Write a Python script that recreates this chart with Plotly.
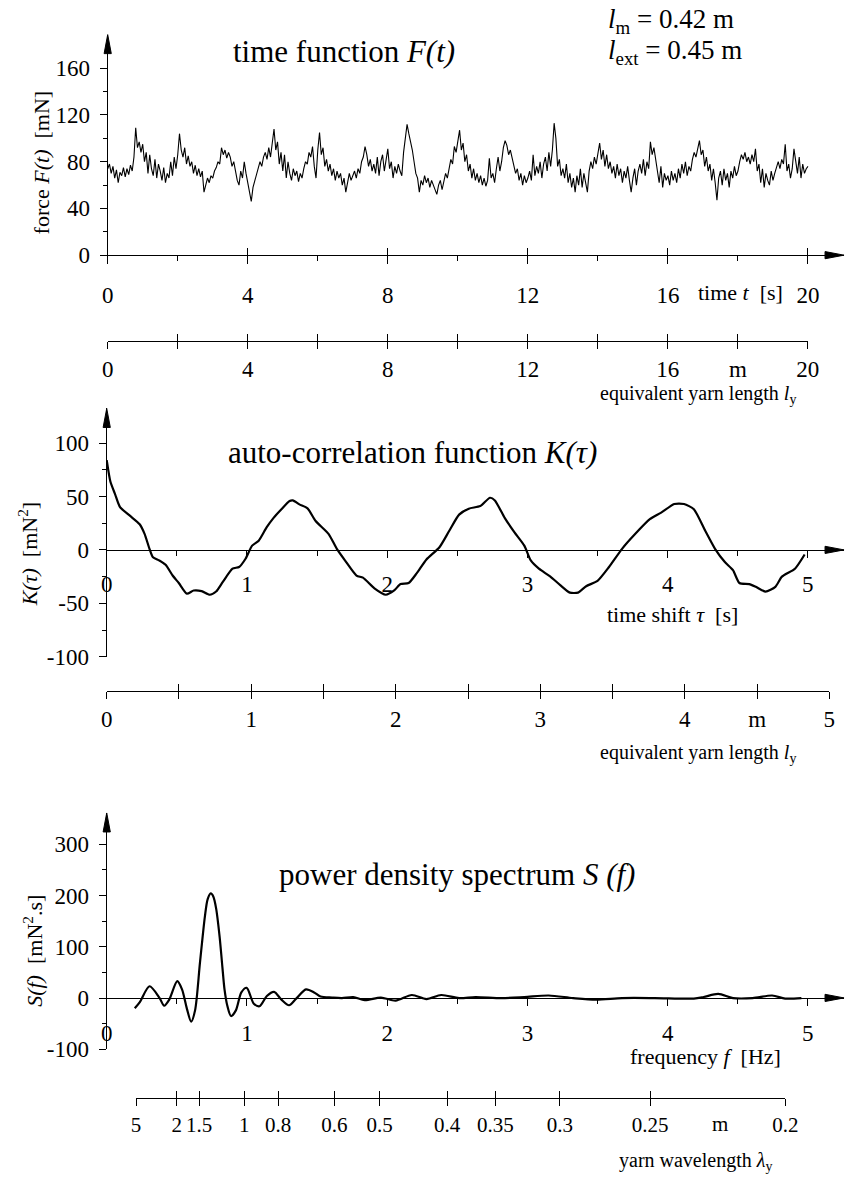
import plotly.graph_objects as go

W, H = 859, 1183
FONT = "Liberation Serif"

# ---------------- data ----------------
# panel 1: force F(t) [mN], sampled every 0.05 s from 0 to 20 s
force_dt = 0.05
force_mN = [
    74, 78, 70, 76, 66, 73, 62, 71, 68, 75, 67, 74, 69, 77, 72, 84, 109, 92, 97, 88,
    95, 80, 88, 70, 86, 74, 68, 82, 66, 78, 72, 64, 75, 62, 70, 66, 80, 68, 84, 74,
    86, 104, 90, 84, 92, 78, 85, 76, 80, 70, 77, 68, 74, 67, 72, 54, 60, 66, 62, 68,
    66, 72, 75, 80, 78, 92, 86, 90, 83, 88, 84, 76, 80, 70, 64, 60, 72, 66, 80, 70,
    62, 56, 46, 58, 64, 70, 74, 80, 76, 84, 88, 82, 92, 84, 96, 108, 90, 97, 78, 88,
    72, 86, 66, 80, 70, 64, 74, 68, 72, 63, 70, 66, 74, 80, 78, 88, 84, 93, 76, 66,
    90, 105, 86, 92, 76, 82, 72, 78, 68, 74, 64, 72, 66, 70, 60, 66, 54, 62, 70, 64,
    68, 72, 66, 74, 70, 80, 84, 93, 86, 76, 82, 72, 78, 70, 84, 68, 80, 86, 72, 84,
    91, 74, 80, 66, 76, 70, 78, 72, 68, 88, 100, 112, 104, 98, 90, 80, 70, 66, 54, 64,
    60, 68, 62, 66, 58, 64, 60, 56, 52, 60, 64, 56, 62, 70, 66, 76, 82, 78, 93, 88,
    98, 107, 90, 96, 80, 86, 72, 78, 66, 74, 64, 70, 62, 68, 60, 66, 59, 64, 83, 66,
    70, 62, 74, 84, 72, 80, 92, 98, 94, 86, 90, 84, 76, 70, 74, 64, 70, 60, 68, 62,
    66, 72, 64, 86, 68, 76, 70, 80, 66, 78, 84, 72, 88, 76, 90, 113, 100, 76, 82, 68,
    74, 66, 78, 62, 70, 58, 66, 54, 68, 60, 74, 58, 70, 62, 54, 72, 80, 74, 84, 78,
    86, 96, 82, 90, 76, 86, 74, 80, 70, 76, 66, 78, 68, 74, 62, 72, 66, 76, 64, 54,
    66, 74, 60, 72, 78, 70, 82, 68, 80, 74, 97, 86, 92, 82, 74, 62, 76, 58, 70, 64,
    68, 60, 72, 64, 70, 62, 74, 66, 78, 70, 80, 68, 76, 72, 82, 88, 84, 91, 98, 86,
    90, 76, 84, 72, 78, 64, 74, 62, 47, 66, 72, 60, 74, 64, 70, 58, 72, 66, 76, 68,
    72, 80, 86, 82, 88, 80, 84, 78, 86, 80, 91, 72, 78, 62, 74, 58, 70, 64, 60, 72,
    64, 70, 76, 80, 74, 82, 78, 95, 72, 78, 66, 74, 91, 80, 70, 84, 66, 78, 70, 74,
    76,
]
time_s = [round(i * force_dt, 2) for i in range(len(force_mN))]

# panel 2: auto-correlation K(tau) [mN^2]
tau_s = [0, 0.026, 0.06, 0.095, 0.165, 0.235, 0.27, 0.305, 0.33, 0.375, 0.42, 0.47,
         0.514, 0.572, 0.62, 0.677, 0.735, 0.78, 0.828, 0.897, 0.944, 0.99, 1.037,
         1.084, 1.14, 1.19, 1.246, 1.304, 1.327, 1.374, 1.432, 1.49, 1.583, 1.641,
         1.7, 1.781, 1.827, 1.909, 1.99, 2.05, 2.095, 2.153, 2.21, 2.28, 2.373,
         2.443, 2.513, 2.582, 2.664, 2.733, 2.768, 2.838, 2.908, 2.978, 3.024,
         3.082, 3.164, 3.234, 3.303, 3.361, 3.419, 3.5, 3.582, 3.675, 3.768, 3.873,
         3.954, 4.047, 4.117, 4.187, 4.268, 4.338, 4.408, 4.466, 4.512, 4.582,
         4.629, 4.698, 4.768, 4.815, 4.908, 4.977]
K_mN2 = [84, 64, 52, 40, 32, 24, 15, 1, -7, -10, -14, -24, -31, -41, -38, -38.6,
         -42, -39, -30, -17.6, -16, -8.3, 4, 8.6, 21, 30, 38, 45.7, 46.3, 42.6,
         38.9, 27, 14.8, 0.9, -10, -24, -26, -36, -42, -38, -32, -31, -22, -9,
         2.5, 17.9, 33, 38.6, 41, 48.8, 46.3, 30, 16.4, 4, -9.9, -17.6, -25, -33,
         -40, -40, -34, -29, -16, 1, 14.8, 28.7, 34.9, 43, 43, 38, 17.9, 1, -11.4,
         -19, -31, -32, -34.6, -39, -34.6, -25, -17.6, -4.3]

# panel 3: power density spectrum S(f) [mN^2.s]
freq_Hz = [0.2, 0.236, 0.305, 0.375, 0.41, 0.444, 0.503, 0.537, 0.572, 0.602, 0.63,
           0.665, 0.7, 0.72, 0.742, 0.76, 0.78, 0.805, 0.825, 0.84, 0.86, 0.886,
           0.921, 0.96, 0.998, 1.049, 1.09, 1.142, 1.193, 1.246, 1.3, 1.351, 1.421,
           1.479, 1.525, 1.607, 1.677, 1.758, 1.84, 1.955, 2.06, 2.176, 2.28, 2.385,
           2.513, 2.63, 2.815, 2.978, 3.152, 3.326, 3.489, 3.675, 3.908, 4.187,
           4.257, 4.361, 4.466, 4.606, 4.745, 4.838, 4.954]
S_mN2s = [-20, -8, 23, 1, -15, -4, 33, 17, -21, -46, -24, 69, 159, 193, 204, 198,
          175, 120, 60, 17, -15, -35, -24, 11, 20, -11, -16, 4, 12, -3, -14, -1,
          17, 11, 3, 1, 0, 2, -4, 1, -5, 6, -2, 6, 0, 2, 0, 2, 5, 0, -3, 0, 0, -1,
          2, 8, 0, 0, 5, -1, 0]

# axis ticks
f_ticks = [0, 40, 80, 120, 160]
k_ticks = [-100, -50, 0, 50, 100]
k_text = ["-100", "-50", "0", "50", "100"]
s_ticks = [-100, 0, 100, 200, 300]
s_text = ["-100", "0", "100", "200", "300"]

# secondary scales
length_ticks_1 = [0, 4, 8, 12, 16, 18, 20]
length_text_1 = ["0", "4", "8", "12", "16", "m", "20"]
length_minor_1 = [2, 6, 10, 14]
length_ticks_2 = [0, 1, 2, 3, 4, 4.5, 5]
length_text_2 = ["0", "1", "2", "3", "4", "m", "5"]
length_minor_2 = [0.5, 1.5, 2.5, 3.5]
wavelength_m = [5, 2, 1.5, 1, 0.8, 0.6, 0.5, 0.4, 0.35, 0.3, 0.25, 0.2]
wavelength_text = ["5", "2", "1.5", "1", "0.8", "0.6", "0.5", "0.4", "0.35", "0.3", "0.25", "0.2"]
speed_factor = 0.97  # lambda * f

# axis extents
F_RANGE = [0, 188.8]
T_RANGE = [0, 21.03]
K_RANGE = [-100, 132.4]
TAU_RANGE = [0, 5.258]
S_RANGE = [-100, 361]
FR_RANGE = [0, 5.258]

# ---------------- helpers ----------------
def X(px):
    return px / W

def Y(py):
    return 1 - py / H

fig = go.Figure()

fig.add_trace(go.Scatter(x=time_s, y=force_mN, mode="lines",
                         line=dict(color="black", width=1.1), xaxis="x", yaxis="y"))
fig.add_trace(go.Scatter(x=tau_s, y=K_mN2, mode="lines",
                         line=dict(color="black", width=2.2, shape="spline", smoothing=0.6),
                         xaxis="x2", yaxis="y2"))
fig.add_trace(go.Scatter(x=freq_Hz, y=S_mN2s, mode="lines",
                         line=dict(color="black", width=2.2, shape="spline", smoothing=0.8),
                         xaxis="x3", yaxis="y3"))
# dummy traces to carry the secondary axes
for xa, ya in [("x4", "y"), ("x5", "y2"), ("x6", "y3"), ("x7", "y"), ("x8", "y2"),
               ("x9", "y3"), ("x10", "y")]:
    fig.add_trace(go.Scatter(x=[None], y=[None], mode="markers", xaxis=xa, yaxis=ya,
                             hoverinfo="skip", showlegend=False))

TICK = 23
tickfont = dict(family=FONT, size=TICK, color="black")
base = dict(showgrid=False, zeroline=False, showline=True, linecolor="black",
            linewidth=1.2, tickcolor="black", tickwidth=1.2, tickfont=tickfont,
            fixedrange=True)

def minor(vals, length, direction="outside"):
    return dict(tickvals=vals, ticks=direction, ticklen=length,
                tickcolor="black", tickwidth=1.2)

lay = {}
# panel 1 primary
lay["xaxis"] = dict(base, domain=[X(104), X(857)], range=T_RANGE, anchor="y",
                    tickmode="array", tickvals=[0, 4, 8, 12, 16, 20], ticks="outside",
                    ticklen=8, ticklabelstandoff=11,
                    minor=minor([2, 6, 10, 14, 18], 5))
lay["yaxis"] = dict(base, domain=[Y(258), Y(35)], range=F_RANGE, anchor="x",
                    tickmode="array", tickvals=f_ticks, ticks="outside",
                    ticklen=7, ticklabelstandoff=5,
                    minor=minor([20, 60, 100, 140], 4))
lay["xaxis10"] = dict(base, domain=[X(104), X(857)], range=T_RANGE, anchor="free",
                      position=Y(258), showline=False, tickmode="array",
                      tickvals=[4, 8, 12, 16, 20], ticks="inside", ticklen=7,
                      showticklabels=False)
# panel 1 secondary
sec1 = dict(domain=[X(104), X(820)], range=[0, 20], anchor="free", position=Y(345))
lay["xaxis4"] = dict(base, **sec1, tickmode="array", tickvals=length_ticks_1,
                     ticktext=length_text_1, ticks="outside", ticklen=7,
                     ticklabelstandoff=0, minor=minor(length_minor_1, 7))
lay["xaxis7"] = dict(base, **sec1, showline=False, tickmode="array",
                     tickvals=length_ticks_1 + length_minor_1, ticks="inside",
                     ticklen=7, showticklabels=False)
# panel 2 primary
lay["xaxis2"] = dict(base, domain=[X(103), X(857)], range=TAU_RANGE, anchor="free",
                     position=Y(556), tickmode="array", tickvals=[0, 1, 2, 3, 4, 5],
                     ticks="outside", ticklen=7, ticklabelstandoff=6,
                     minor=minor([0.5, 1.5, 2.5, 3.5, 4.5], 5))
lay["yaxis2"] = dict(base, domain=[Y(664), Y(413)], range=K_RANGE, anchor="x2",
                     tickmode="array", tickvals=k_ticks, ticktext=k_text,
                     ticks="outside", ticklen=7, ticklabelstandoff=5,
                     minor=minor([-75, -25, 25, 75], 4))
# panel 2 secondary
sec2 = dict(domain=[X(103), X(842)], range=[0, 5], anchor="free", position=Y(699))
lay["xaxis5"] = dict(base, **sec2, tickmode="array", tickvals=length_ticks_2,
                     ticktext=length_text_2, ticks="outside", ticklen=7,
                     ticklabelstandoff=0, minor=minor(length_minor_2, 7))
lay["xaxis8"] = dict(base, **sec2, showline=False, tickmode="array",
                     tickvals=length_ticks_2 + length_minor_2, ticks="inside",
                     ticklen=7, showticklabels=False)
# panel 3 primary
lay["xaxis3"] = dict(base, domain=[X(103), X(857)], range=FR_RANGE, anchor="free",
                     position=Y(1009), tickmode="array", tickvals=[0, 1, 2, 3, 4, 5],
                     ticks="outside", ticklen=7, ticklabelstandoff=7,
                     minor=minor([0.5, 1.5, 2.5, 3.5, 4.5], 5))
lay["yaxis3"] = dict(base, domain=[Y(1061), Y(822)], range=S_RANGE, anchor="x3",
                     tickmode="array", tickvals=s_ticks, ticktext=s_text,
                     ticks="outside", ticklen=7, ticklabelstandoff=5,
                     minor=minor([-50, 50, 150, 250], 4))
# panel 3 secondary (wavelength)
wl_pos = [speed_factor / w for w in wavelength_m]
sec3 = dict(domain=[X(133), X(797)],
            range=[speed_factor / wavelength_m[0], speed_factor / wavelength_m[-1]],
            anchor="free", position=Y(1110))
lay["xaxis6"] = dict(base, **sec3, tickmode="array", tickvals=wl_pos,
                     ticktext=wavelength_text, ticks="outside", ticklen=7,
                     ticklabelstandoff=1, tickfont=dict(family=FONT, size=21, color="black"))
lay["xaxis9"] = dict(base, **sec3, showline=False, tickmode="array",
                     tickvals=wl_pos, ticks="inside", ticklen=7, showticklabels=False)

fig.update_layout(**lay)

ann = []

def text(t, x, y, size, xanchor="center", yanchor="middle", angle=0):
    ann.append(dict(text=t, x=X(x), y=Y(y), xref="paper", yref="paper",
                    showarrow=False, xanchor=xanchor, yanchor=yanchor, textangle=angle,
                    font=dict(family=FONT, size=size, color="black")))

# titles
text("time function <i>F(t)</i>", 346, 52, 31)
text("<i>l</i><sub>m</sub> = 0.42 m", 614, 21, 27, xanchor="left")
text("<i>l</i><sub>ext</sub> = 0.45 m", 614, 53, 27, xanchor="left")
text("auto-correlation function <i>K(τ)</i>", 416, 458, 31)
text("power density spectrum <i>S (f)</i>", 461, 884, 31)
# axis labels
text("time <i>t</i>  [s]", 751, 296, 22)
text("equivalent yarn length <i>l</i><sub>y</sub>", 810, 399, 20, xanchor="right")
text("time shift <i>τ</i>  [s]", 682, 621, 22)
text("equivalent yarn length <i>l</i><sub>y</sub>", 810, 762, 20, xanchor="right")
text("frequency <i>f</i>  [Hz]", 715, 1068, 22)
text("m", 730, 1136, 21)
text("yarn wavelength <i>λ</i><sub>y</sub>", 705, 1174, 20)
text("force <i>F(t)</i>  [mN]", 36, 164, 22, angle=-90)
text("<i>K(τ)</i>  [mN<sup>2</sup>]", 22, 560, 22, angle=-90)
text("<i>S(f)</i>  [mN<sup>2</sup>.s]", 28, 961, 22, angle=-90)

# axis arrowheads: long narrow filled triangles, anchored (in paper coordinates)
# at the ends of each main axis, sized in pixels
UP = "M0,0 L-3.6,-19 L3.6,-19 Z"
RIGHT = "M0,0 L-19,3.6 L-19,-3.6 Z"
ends = [
    (lay["xaxis"]["domain"][0], lay["yaxis"]["domain"][1], UP),
    (lay["xaxis"]["domain"][1], lay["yaxis"]["domain"][0], RIGHT),
    (lay["xaxis2"]["domain"][0], lay["yaxis2"]["domain"][1], UP),
    (lay["xaxis2"]["domain"][1], lay["xaxis2"]["position"], RIGHT),
    (lay["xaxis3"]["domain"][0], lay["yaxis3"]["domain"][1], UP),
    (lay["xaxis3"]["domain"][1], lay["xaxis3"]["position"], RIGHT),
]
shapes = []
for xa, ya, path in ends:
    shapes.append(dict(type="path", xref="paper", yref="paper", xsizemode="pixel",
                       ysizemode="pixel", xanchor=xa, yanchor=ya, path=path,
                       fillcolor="black", line=dict(color="black", width=1),
                       layer="above"))

fig.update_layout(width=W, height=H, margin=dict(l=0, r=0, t=0, b=0),
                  paper_bgcolor="white", plot_bgcolor="rgba(0,0,0,0)",
                  showlegend=False, annotations=ann, shapes=shapes,
                  font=dict(family=FONT, color="black"))

fig.write_html("out.html")
